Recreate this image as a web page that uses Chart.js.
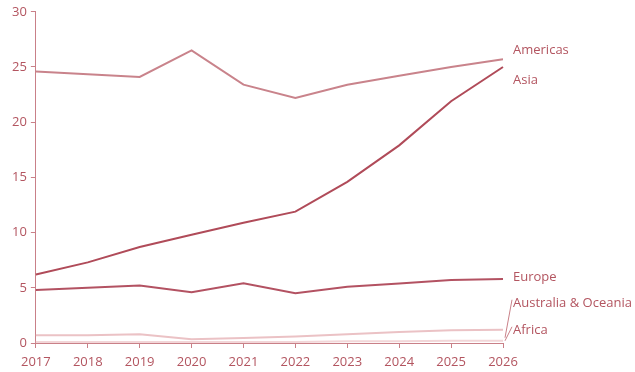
<!DOCTYPE html>
<html>
<head>
<meta charset="utf-8">
<script src="https://cdn.jsdelivr.net/npm/chart.js@4.4.0/dist/chart.umd.min.js"></script>
<style>
  html, body { margin: 0; padding: 0; background: #fff; }
  #wrap { width: 635px; height: 372px; }
</style>
</head>
<body>
<div id="wrap"><canvas id="chart"></canvas></div>
<script>
// Years on the x axis
const years = ['2017', '2018', '2019', '2020', '2021', '2022', '2023', '2024', '2025', '2026'];

// Series values
const americas = [24.6, 24.35, 24.1, 26.5, 23.4, 22.2, 23.4, 24.2, 25.0, 25.7];
const asia = [6.2, 7.3, 8.7, 9.8, 10.9, 11.9, 14.6, 17.9, 21.9, 25.0];
const europe = [4.8, 5.0, 5.2, 4.6, 5.4, 4.5, 5.1, 5.4, 5.7, 5.8];
const oceania = [0.7, 0.7, 0.8, 0.35, 0.45, 0.6, 0.8, 1.0, 1.15, 1.2];
const africa = [0.1, 0.1, 0.1, 0.1, 0.1, 0.1, 0.15, 0.15, 0.2, 0.2];

const seriesNames = ['Americas', 'Asia', 'Europe', 'Australia & Oceania', 'Africa'];
const seriesData = [americas, asia, europe, oceania, africa];
const seriesColors = ['#c9838b', '#b04b59', '#b35262', '#ebc2c5', '#f2d6d8'];

// label placement: y offset of the label from the last point
const labelOffsets = [-9, 13, -2, -26, -10];
const textColor = '#b35560';
const axisColor = '#c98088';

const endLabels = {
  id: 'endLabels',
  afterDatasetsDraw(chart) {
    const ctx = chart.ctx;
    ctx.save();
    ctx.font = '13px "Open Sans"';
    ctx.fillStyle = textColor;
    ctx.textBaseline = 'middle';
    chart.data.datasets.forEach((ds, i) => {
      const meta = chart.getDatasetMeta(i);
      const p = meta.data[meta.data.length - 1];
      const x = p.x + 10;
      const y = p.y + labelOffsets[i];
      if (i >= 3) {
        // little leader line for the crowded bottom labels
        ctx.strokeStyle = axisColor;
        ctx.lineWidth = 1;
        ctx.beginPath();
        ctx.moveTo(p.x + 2, p.y + (i === 3 ? 8 : 0));
        ctx.lineTo(x - 1, y - 4);
        ctx.stroke();
      }
      ctx.fillText(ds.label, x, y);
    });
    ctx.restore();
  }
};

new Chart(document.getElementById('chart'), {
  type: 'line',
  data: {
    labels: years,
    datasets: seriesNames.map((name, i) => ({
      label: name,
      data: seriesData[i],
      borderColor: seriesColors[i],
      borderWidth: 2,
      pointRadius: 0,
      tension: 0,
      fill: false
    }))
  },
  options: {
    responsive: true,
    maintainAspectRatio: false,
    animation: false,
    layout: { padding: { top: 6, right: 132, left: 8, bottom: 0 } },
    plugins: { legend: { display: false }, tooltip: { enabled: false } },
    scales: {
      x: {
        offset: false,
        afterFit: (scale) => { scale.height = 29; },
        grid: { display: true, drawOnChartArea: false, drawTicks: true, tickLength: 5, color: axisColor },
        border: { color: axisColor, width: 1 },
        ticks: { color: textColor, font: { family: 'Open Sans', size: 13 }, maxRotation: 0, padding: 6 }
      },
      y: {
        min: 0,
        max: 30,
        grid: { display: true, drawOnChartArea: false, drawTicks: true, tickLength: 5, color: axisColor },
        border: { color: axisColor, width: 1 },
        ticks: { stepSize: 5, color: textColor, font: { family: 'Open Sans', size: 13 }, padding: 4 }
      }
    }
  },
  plugins: [endLabels]
});
</script>
</body>
</html>
